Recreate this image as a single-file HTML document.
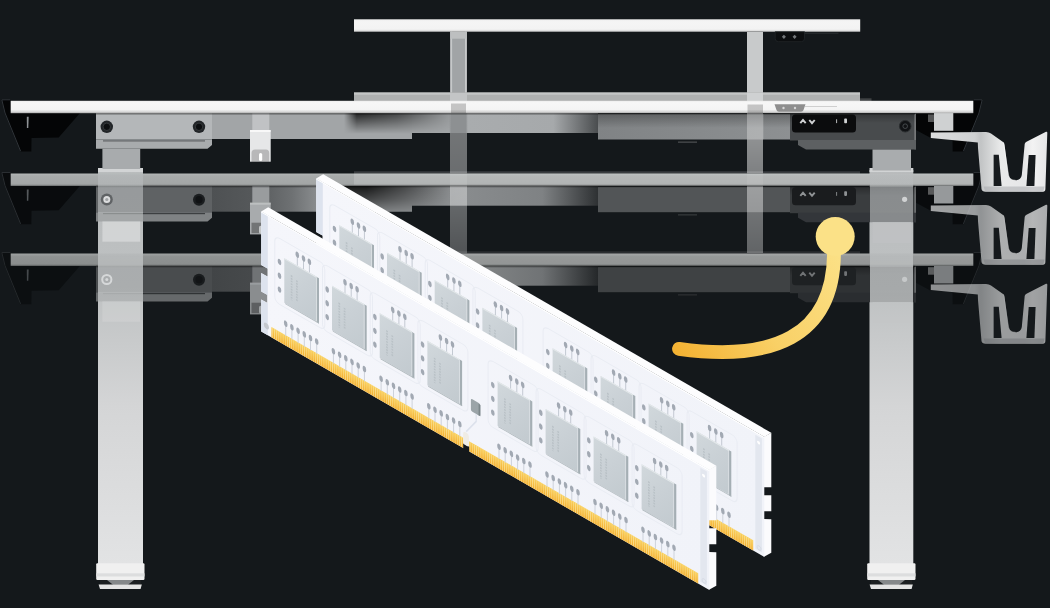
<!DOCTYPE html>
<html><head><meta charset="utf-8"><title>desk</title>
<style>
html,body{margin:0;padding:0;background:#14181b;}
body{width:1050px;height:608px;overflow:hidden;font-family:"Liberation Sans",sans-serif;}
svg{display:block}
</style></head><body>
<svg width="1050" height="608" viewBox="0 0 1050 608">
<defs>
<linearGradient id="topg" x1="0" y1="0" x2="0" y2="1">
<stop offset="0" stop-color="#ededed"/><stop offset=".15" stop-color="#f7f7f7"/><stop offset=".7" stop-color="#f4f4f4"/><stop offset=".88" stop-color="#d9d9d9"/><stop offset="1" stop-color="#a9a9a9"/>
</linearGradient>
<linearGradient id="topg0" x1="0" y1="0" x2="0" y2="1">
<stop offset="0" stop-color="#eeeeee"/><stop offset=".2" stop-color="#f5f5f5"/><stop offset=".8" stop-color="#f3f3f3"/><stop offset="1" stop-color="#d0d0d0"/>
</linearGradient>
<linearGradient id="topg1" x1="0" y1="0" x2="0" y2="1">
<stop offset="0" stop-color="#b4b7b7"/><stop offset=".2" stop-color="#a8abab"/><stop offset=".85" stop-color="#a3a6a6"/><stop offset="1" stop-color="#7a7d7d"/>
</linearGradient>
<linearGradient id="topg2" x1="0" y1="0" x2="0" y2="1">
<stop offset="0" stop-color="#a0a3a3"/><stop offset=".25" stop-color="#8f9292"/><stop offset=".85" stop-color="#8b8e8e"/><stop offset="1" stop-color="#676a6a"/>
</linearGradient>
<linearGradient id="barg" x1="0" y1="0" x2="1" y2="0">
<stop offset="0" stop-color="#a3a6a8"/><stop offset=".2" stop-color="#a3a6a8"/><stop offset=".21" stop-color="#8d9092"/><stop offset=".29" stop-color="#8d9092"/><stop offset=".3" stop-color="#a9acae"/><stop offset=".76" stop-color="#a6a9ab"/><stop offset="1" stop-color="#4a4d4f"/>
</linearGradient>
<linearGradient id="barg1" x1="0" y1="0" x2="1" y2="0">
<stop offset="0" stop-color="#8f9294"/><stop offset=".2" stop-color="#909395"/><stop offset=".21" stop-color="#85888a"/><stop offset=".3" stop-color="#888b8d"/><stop offset=".7" stop-color="#7f8284"/><stop offset="1" stop-color="#2e3133"/>
</linearGradient>
<linearGradient id="barg2" x1="0" y1="0" x2="1" y2="0">
<stop offset="0" stop-color="#5a5d5f"/><stop offset=".18" stop-color="#3c3f41"/><stop offset=".3" stop-color="#858889"/><stop offset=".7" stop-color="#707375"/><stop offset="1" stop-color="#25282a"/>
</linearGradient>
<linearGradient id="bl1" x1="0" y1="0" x2="1" y2="0">
<stop offset="0" stop-color="#4e5153"/><stop offset=".2" stop-color="#55585a"/><stop offset=".4" stop-color="#6e7173"/><stop offset=".55" stop-color="#8f9294"/><stop offset="1" stop-color="#8f9294"/>
</linearGradient>
<linearGradient id="bl2" x1="0" y1="0" x2="1" y2="0">
<stop offset="0" stop-color="#424547"/><stop offset=".3" stop-color="#484b4d"/><stop offset="1" stop-color="#5a5d5f"/>
</linearGradient>
<linearGradient id="boxshade" x1="0" y1="0" x2="0" y2="1">
<stop offset="0" stop-color="#000" stop-opacity=".28"/><stop offset="1" stop-color="#000" stop-opacity="0"/>
</linearGradient>
<linearGradient id="diagsh" x1="0" y1="0" x2="1" y2="1">
<stop offset="0" stop-color="#000" stop-opacity=".8"/><stop offset=".25" stop-color="#000" stop-opacity=".62"/><stop offset=".5" stop-color="#000" stop-opacity=".18"/><stop offset=".75" stop-color="#000" stop-opacity=".03"/><stop offset="1" stop-color="#000" stop-opacity="0"/>
</linearGradient>
<linearGradient id="shv" x1="0" y1="0" x2="0" y2="1">
<stop offset="0" stop-color="#000" stop-opacity=".8"/><stop offset=".35" stop-color="#000" stop-opacity=".45"/><stop offset=".8" stop-color="#000" stop-opacity="0"/>
</linearGradient>
<linearGradient id="shv1" x1="0" y1="0" x2="0" y2="1">
<stop offset="0" stop-color="#000" stop-opacity=".85"/><stop offset=".5" stop-color="#000" stop-opacity=".55"/><stop offset="1" stop-color="#000" stop-opacity=".12"/>
</linearGradient>
<linearGradient id="shmh" x1="0" y1="0" x2="1" y2="0">
<stop offset="0" stop-color="#000"/><stop offset=".12" stop-color="#fff"/><stop offset=".5" stop-color="#bbb"/><stop offset="1" stop-color="#1a1a1a"/>
</linearGradient>
<linearGradient id="shmh1" x1="0" y1="0" x2="1" y2="0">
<stop offset="0" stop-color="#fff"/><stop offset=".35" stop-color="#fff"/><stop offset=".65" stop-color="#999"/><stop offset="1" stop-color="#111"/>
</linearGradient>
<mask id="shm" maskUnits="userSpaceOnUse" x="340" y="110" width="115" height="32"><rect x="344" y="113" width="106" height="26" fill="url(#shmh)"/></mask>
<mask id="shm1" maskUnits="userSpaceOnUse" x="320" y="110" width="135" height="32"><rect x="322" y="113" width="128" height="26" fill="url(#shmh1)"/></mask>
<linearGradient id="boxg" x1="0" y1="0" x2="1" y2="0">
<stop offset="0" stop-color="#808385"/><stop offset="1" stop-color="#8d9092"/>
</linearGradient>
<linearGradient id="legg" x1="0" y1="0" x2="0" y2="1">
<stop offset="0" stop-color="#b9bcbd"/><stop offset=".3" stop-color="#bec1c2"/><stop offset=".6" stop-color="#d4d5d6"/><stop offset="1" stop-color="#e2e3e4"/>
</linearGradient>
<linearGradient id="hookg" gradientUnits="userSpaceOnUse" x1="930" y1="0" x2="1048" y2="0">
<stop offset="0" stop-color="#dcddde"/><stop offset=".38" stop-color="#cfd1d2"/><stop offset=".43" stop-color="#c2c4c5"/><stop offset=".6" stop-color="#e9eaea"/><stop offset=".8" stop-color="#e6e7e8"/><stop offset=".87" stop-color="#f3f3f3"/><stop offset="1" stop-color="#e4e5e6"/>
</linearGradient>
<linearGradient id="faceg" x1="0" y1="0" x2="1" y2="0">
<stop offset="0" stop-color="#f5f6fb"/><stop offset="1" stop-color="#f1f3f9"/>
</linearGradient>
<linearGradient id="chipg" x1="0" y1="0" x2="1" y2="1">
<stop offset="0" stop-color="#d1d8dc"/><stop offset=".5" stop-color="#c9d0d5"/><stop offset="1" stop-color="#c2cacf"/>
</linearGradient>
<linearGradient id="goldg" x1="0" y1="0" x2="0" y2="1">
<stop offset="0" stop-color="#f9d05c"/><stop offset="1" stop-color="#f3ae2e"/>
</linearGradient>
<pattern id="goldlines" width="2.15" height="20" patternUnits="userSpaceOnUse">
<rect x="0" y="0" width=".8" height="20" fill="#fbe39a" opacity=".75"/>
</pattern>
<linearGradient id="curveg" gradientUnits="userSpaceOnUse" x1="835" y1="240" x2="675" y2="350">
<stop offset="0" stop-color="#fbe187"/><stop offset=".55" stop-color="#f9d066"/><stop offset="1" stop-color="#f4b233"/>
</linearGradient>
<linearGradient id="colfadeL" gradientUnits="userSpaceOnUse" x1="0" y1="113" x2="0" y2="300">
<stop offset="0" stop-color="#fff" stop-opacity=".42"/><stop offset=".5" stop-color="#fff" stop-opacity=".34"/><stop offset="1" stop-color="#fff" stop-opacity=".18"/>
</linearGradient>
<linearGradient id="colfadeR" gradientUnits="userSpaceOnUse" x1="0" y1="113" x2="0" y2="253">
<stop offset="0" stop-color="#fff" stop-opacity=".58"/><stop offset=".4" stop-color="#fff" stop-opacity=".46"/><stop offset="1" stop-color="#fff" stop-opacity=".33"/>
</linearGradient>
<clipPath id="colclip"><rect x="440" y="113" width="330" height="60.3"/><rect x="440" y="186.2" width="330" height="67"/><rect x="440" y="266.2" width="330" height="40"/></clipPath>
<clipPath id="legs"><rect x="98" y="168" width="45" height="400"/><rect x="870" y="170" width="43" height="400"/></clipPath>
<clipPath id="notlegs"><path clip-rule="evenodd" d="M0,0H1050V608H0Z M98,168H143V568H98Z M870,170H913V570H870Z"/></clipPath>
<g id="chip">
<rect x="-9.5" y="-17" width="50" height="66" rx="5" fill="none" stroke="#e9ecf3" stroke-width="1"/>
<rect x="12.5" y="-9.8" width="1" height="9.8" fill="#c3c9d2"/>
<ellipse cx="13" cy="-10.8" rx="1.8" ry="3" fill="#a2a9b3"/>
<rect x="18.7" y="-9.8" width="1" height="9.8" fill="#c3c9d2"/>
<ellipse cx="19.2" cy="-10.8" rx="1.8" ry="3" fill="#a2a9b3"/>
<rect x="24.6" y="-9.8" width="1" height="9.8" fill="#c3c9d2"/>
<ellipse cx="25.1" cy="-10.8" rx="1.8" ry="3" fill="#a2a9b3"/>
<ellipse cx="-4.8" cy="6.6" rx="1.8" ry="2.9" fill="#a2a9b3"/>
<ellipse cx="-4.8" cy="20.4" rx="1.8" ry="2.9" fill="#a2a9b3"/>
<ellipse cx="-4.8" cy="34.2" rx="1.8" ry="2.9" fill="#a2a9b3"/>
<rect x="0.8999999999999999" y="64.7" width="1" height="12.3" fill="#cdd2db"/>
<ellipse cx="1.4" cy="64.7" rx="1.8" ry="3" fill="#a2a9b3"/>
<rect x="7.1" y="64.7" width="1" height="12.3" fill="#cdd2db"/>
<ellipse cx="7.6" cy="64.7" rx="1.8" ry="3" fill="#a2a9b3"/>
<rect x="13.3" y="64.7" width="1" height="12.3" fill="#cdd2db"/>
<ellipse cx="13.8" cy="64.7" rx="1.8" ry="3" fill="#a2a9b3"/>
<rect x="19.5" y="64.7" width="1" height="12.3" fill="#cdd2db"/>
<ellipse cx="20.0" cy="64.7" rx="1.8" ry="3" fill="#a2a9b3"/>
<rect x="25.7" y="64.7" width="1" height="12.3" fill="#cdd2db"/>
<ellipse cx="26.2" cy="64.7" rx="1.8" ry="3" fill="#a2a9b3"/>
<rect x="31.9" y="64.7" width="1" height="12.3" fill="#cdd2db"/>
<ellipse cx="32.4" cy="64.7" rx="1.8" ry="3" fill="#a2a9b3"/>
<rect x="0" y="0" width="32.4" height="44.6" fill="url(#chipg)"/>
<rect x="0" y="0" width="32.4" height="1.2" fill="#e3e8ea"/>
<rect x="32.4" y="0.2" width="2.3" height="45.2" fill="#a5afb4"/><rect x="31.7" y="1" width=".8" height="43.6" fill="#dde2e5"/>
<rect x="0.8" y="44.6" width="33.9" height="0.9" fill="#b0b9bd"/>
<path d="M7.3,13 V38 M12.6,15 V36" stroke="#b9c1c6" stroke-width="1.7" stroke-dasharray="1.6 1.1" fill="none"/>
</g>
<g id="ram">
<polygon points="0,0 7,-8.24 455.1,-8.24 448.1,0" fill="#fdfdfe"/>
<polygon points="447.8,0.00 455.1,-8.24 455.1,46.36 447.8,50.40" fill="#fbfbfd"/>
<polygon points="447.8,58.40 455.1,54.36 455.1,70.36 447.8,74.40" fill="#fbfbfd"/>
<polygon points="447.8,82.20 455.1,78.16 455.1,111.76 447.8,120.00" fill="#fbfbfd"/>
<path d="M0,0 H448.1 V120.0 H0 V88 h6 v-8 h-6 V61.5 h6.3 v-8 h-6.3 Z" fill="url(#faceg)"/>
<rect x="0" y="0" width="6.6" height="53.5" fill="#dde3ee"/>
<rect x="0" y="61.5" width="6.6" height="18.5" fill="#dde3ee"/>
<rect x="0" y="88" width="6.6" height="32.0" fill="#dde3ee"/>
<rect x="0" y="53.5" width="6.6" height="8" fill="#14181b" opacity="0"/>
<rect x="439.1" y="3" width="6.6" height="114.0" fill="#e3e7ef"/>
<circle cx="442.40000000000003" cy="9" r="1.5" fill="#ffffff"/>
<circle cx="442.90000000000003" cy="114.0" r="2" fill="none" stroke="#d3d8e2" stroke-width=".7"/>
<ellipse cx="5.2" cy="111.5" rx="2.6" ry="3" fill="#c3c7cd"/>
<rect x="0" y="0" width="448.1" height="1.2" fill="#ffffff"/>
<rect x="10.2" y="109.8" width="191.8" height="10.200000000000003" fill="url(#goldg)"/>
<rect x="207.9" y="109.8" width="229.1" height="10.200000000000003" fill="url(#goldg)"/>
<rect x="10.2" y="109.8" width="191.8" height="10.200000000000003" fill="url(#goldlines)"/>
<rect x="207.9" y="109.8" width="229.1" height="10.200000000000003" fill="url(#goldlines)"/>
<rect x="202" y="115.5" width="5.9" height="5.5" fill="#14181b"/>
<rect x="202" y="103" width="5.7" height="13" rx="2.4" fill="#efece5"/>
<rect x="209.7" y="66" width="9.3" height="12.5" rx="1.5" fill="#9ba4a8"/>
<rect x="217.4" y="67" width="1.8" height="11.3" fill="#7b8589"/>
<path d="M215,78.5 V86 L205,102" fill="none" stroke="#dde2ec" stroke-width="1.3"/>
<use href="#chip" x="23.1" y="33.4"/>
<use href="#chip" x="70.8" y="33.4"/>
<use href="#chip" x="118.5" y="33.4"/>
<use href="#chip" x="166.2" y="33.4"/>
<use href="#chip" x="236.4" y="33.4"/>
<use href="#chip" x="284.4" y="33.4"/>
<use href="#chip" x="332.4" y="33.4"/>
<use href="#chip" x="380.4" y="33.4"/>
</g>
<g id="hook">
<path d="M930.8,132.5 L986,132 Q989,132 991,133.5 L1003.4,142.3 Q1004.5,143.2 1004.6,145 L1008.5,175 Q1009.5,180.3 1015.5,180.3 Q1021,180.3 1021.8,175 L1024.7,144 Q1024.9,142.5 1026.5,141.8 L1046,131.8 Q1047.4,131.3 1047.3,133 L1045.4,189 Q1045.3,191.7 1043,191.7 L985.5,191.7 Q982,191.7 981.5,189 L978,148 L977.8,142.5 L930.8,138 Z" fill="url(#hookg)"/>
<polygon points="985,191 1043.4,191 1044.6,186.4 983.5,186.4" fill="#a9acae" opacity=".55"/>
<polygon points="993.6,154.7 998.8,154.7 1001.6,186 993.6,186" fill="#171b1e"/>
<polygon points="1028.7,155.1 1035.6,155.1 1034.4,186 1026.4,186" fill="#171b1e"/>
<path d="M1003.4,142.3 L1008.5,175 Q1009.5,180.3 1015.5,180.3" fill="none" stroke="#ffffff" stroke-opacity=".5" stroke-width="1"/>
</g>
<g id="desk0">
<rect x="354" y="92.5" width="506" height="8.7" fill="#aeb0b0"/>
<rect x="354" y="92.5" width="506" height="2.2" fill="#c4c6c6"/>
<rect x="860" y="98.3" width="11.5" height="2.9" fill="#3f4244"/>
<rect x="450" y="93" width="17" height="8.2" fill="#c3c5c6"/>
<rect x="747" y="93" width="16" height="8.2" fill="#cfd1d2"/>
<rect x="212" y="113" width="200" height="26" fill="#a2a5a7"/>
<rect x="412" y="113" width="186" height="20" fill="url(#barg)"/>
<path d="M344,113 H450 V133 H412 V139 H344 Z" fill="url(#shv)" mask="url(#shm)"/>
<rect x="598" y="114" width="192" height="25.5" fill="url(#boxg)"/>
<rect x="598" y="114" width="192" height="14" fill="url(#boxshade)"/>
<rect x="678" y="141.5" width="19" height="1.3" fill="#4a4d4f"/>
<rect x="790" y="114" width="126" height="26.5" fill="#484b4d"/>
<rect x="790" y="114" width="126" height="9" fill="url(#boxshade)"/>
<rect x="914.3" y="114" width="1.7" height="35.5" fill="#fff" opacity=".25"/>
<polygon points="798,140 916,140 916,149.5 806,149.5 798,145" fill="#5d6062"/>
<rect x="872.5" y="149.5" width="38.5" height="21" fill="#a9acae"/>
<rect x="96" y="113" width="116" height="26.5" fill="#b4b7b9"/>
<polygon points="96,139.5 212,139.5 212,145 207.5,148.8 96,148.8" fill="#a8abad"/>
<rect x="103" y="140.3" width="102" height="1.2" fill="#606365"/>
<circle cx="106.8" cy="126.8" r="6.2" fill="#222528"/><circle cx="106.8" cy="126.8" r="3.7" fill="#0c0e10" stroke="#3c4043" stroke-width=".8"/>
<circle cx="199" cy="126.8" r="6.2" fill="#222528"/><circle cx="199" cy="126.8" r="3.7" fill="#0c0e10" stroke="#3c4043" stroke-width=".8"/>
<rect x="102.4" y="148.8" width="37.8" height="20.2" fill="#a8abad"/>
<rect x="252.3" y="113" width="17" height="17.5" fill="#c0c2c4"/>
<rect x="250" y="130" width="20.7" height="31.7" fill="#e6e7e8"/>
<rect x="250" y="130" width="20.7" height="2" fill="#ffffff" opacity=".7"/>
<path d="M251.5,161.7 V153 Q251.5,149.5 255,149.5 H266 Q269.2,149.5 269.2,153 V161.7 Z" fill="#000" opacity=".2"/>
<rect x="259" y="153" width="3.2" height="8" rx="1.6" fill="#ffffff"/>
<polygon points="1.3,99.3 10.7,99.3 10.7,113 80,113 58.7,137.5 31.5,138 31.3,151.5 20.3,151.5 4.5,113" fill="#040506"/>
<path d="M10.5,99.8 H1.8 L5,113 L20.6,151.2" fill="none" stroke="#30353a" stroke-width="1"/>
<polygon points="26.8,116.7 28.7,116.7 28.3,128 26.9,128" fill="#8f9396"/>
<polygon points="982.7,99.3 973.3,99.3 973.3,113 916,113 916,130 930,137.5 952.5,138 952.7,151.5 963.7,151.5 979.5,113" fill="#040506"/>
<path d="M973.5,99.8 H982.2 L979,113 L963.4,151.2" fill="none" stroke="#30353a" stroke-width="1"/>
<rect x="934" y="113" width="19.3" height="17.8" fill="#cfd1d2"/>
<rect x="928" y="114.5" width="6" height="7.5" fill="#fff" opacity=".32"/>
<rect x="792" y="114.5" width="64" height="18" rx="3.5" fill="#0b0c0d"/>
<path d="M800.3,123.2 l2.7,-3.2 l2.7,3.2 M809.3,120 l2.7,3.2 l2.7,-3.2" stroke="#d0d2d3" stroke-width="1.9" fill="none"/>
<rect x="836" y="119.3" width="1.1" height="3.8" fill="#d0d2d3" opacity=".8"/><rect x="844.2" y="118.6" width="2.8" height="4.6" rx=".8" fill="#d0d2d3"/>
<circle cx="905.2" cy="126.2" r="5.8" fill="#111315" stroke="#2a2d2f" stroke-width="1"/><circle cx="905.2" cy="126.2" r="2.3" fill="none" stroke="#4a4e51" stroke-width=".9"/>
<rect x="10.7" y="100.8" width="962.6" height="12.4" fill="url(#topg)"/>
<rect x="96" y="113" width="819" height="1.6" fill="#000" opacity=".35"/>
</g>
<g id="desk1">
<rect x="354" y="98.6" width="506" height="2.6" fill="#3a3d40"/>
<rect x="212" y="113" width="200" height="26" fill="url(#bl1)"/>
<rect x="412" y="113" width="186" height="20" fill="url(#barg1)"/>
<path d="M322,113 H450 V133 H412 V139 H322 Z" fill="url(#shv1)" mask="url(#shm1)"/>
<rect x="598" y="114" width="192" height="25.5" fill="#525557"/>
<rect x="678" y="141.5" width="19" height="1.3" fill="#35383a"/>
<rect x="790" y="114" width="126" height="26.5" fill="#3a3d3f"/>
<rect x="790" y="114" width="126" height="9" fill="url(#boxshade)"/>
<rect x="914.3" y="114" width="1.7" height="35.5" fill="#fff" opacity=".25"/>
<polygon points="798,140 916,140 916,149.5 806,149.5 798,145" fill="#33363a"/>
<rect x="872.5" y="149.5" width="38.5" height="21" fill="#c4c6c7"/>
<rect x="96" y="113" width="116" height="26.5" fill="#5f6264"/>
<polygon points="96,139.5 212,139.5 212,145 207.5,148.8 96,148.8" fill="#7f8284"/>
<rect x="103" y="140.3" width="102" height="1.2" fill="#3c3f41"/>
<circle cx="199" cy="127" r="6" fill="#1b1e20"/><circle cx="199" cy="127" r="3.6" fill="#101214"/>
<rect x="102.4" y="148.8" width="37.8" height="20.2" fill="#f6f6f6"/>
<rect x="252.3" y="113" width="17" height="17.5" fill="#999c9e"/>
<rect x="250" y="130" width="20.7" height="31.7" fill="#a8abad"/>
<rect x="250" y="130" width="20.7" height="2" fill="#c5c7c8" opacity=".7"/>
<rect x="251.5" y="150" width="17.7" height="10.5" fill="#000" opacity=".32"/>
<rect x="259" y="153" width="3.2" height="8" rx="1.6" fill="#c5c7c8"/>
<polygon points="1.3,99.3 10.7,99.3 10.7,113 80,113 58.7,137.5 31.5,138 31.3,151.5 20.3,151.5 4.5,113" fill="#090b0d"/>
<path d="M10.5,99.8 H1.8 L5,113 L20.6,151.2" fill="none" stroke="#2a2e32" stroke-width="1"/>
<polygon points="26.8,116.7 28.7,116.7 28.3,128 26.9,128" fill="#55595c"/>
<polygon points="982.7,99.3 973.3,99.3 973.3,113 916,113 916,130 930,137.5 952.5,138 952.7,151.5 963.7,151.5 979.5,113" fill="#090b0d"/>
<path d="M973.5,99.8 H982.2 L979,113 L963.4,151.2" fill="none" stroke="#2a2e32" stroke-width="1"/>
<rect x="934" y="113" width="19.3" height="17.8" fill="#96999b"/>
<rect x="928" y="114.5" width="6" height="7.5" fill="#fff" opacity=".32"/>
<rect x="792" y="114.5" width="64" height="18" rx="3.5" fill="#1a1c1e"/>
<path d="M800.3,123.2 l2.7,-3.2 l2.7,3.2 M809.3,120 l2.7,3.2 l2.7,-3.2" stroke="#8f9294" stroke-width="1.9" fill="none"/>
<rect x="836" y="119.3" width="1.1" height="3.8" fill="#8f9294" opacity=".8"/><rect x="844.2" y="118.6" width="2.8" height="4.6" rx=".8" fill="#8f9294"/>
<circle cx="904.6" cy="126.6" r="2.6" fill="#f4f4f4"/>
<rect x="10.7" y="100.8" width="962.6" height="12.4" fill="url(#topg1)"/>
<rect x="354" y="101" width="619.3" height="11" fill="#fff" opacity=".16"/>
<rect x="96" y="113" width="819" height="1.6" fill="#000" opacity=".35"/>
</g>
<g id="desk2">
<rect x="354" y="98.6" width="506" height="2.6" fill="#2b2e31"/>
<rect x="212" y="113" width="200" height="26" fill="url(#bl2)"/>
<rect x="412" y="113" width="186" height="20" fill="url(#barg2)"/>
<rect x="598" y="114" width="192" height="25.5" fill="#3f4244"/>
<rect x="678" y="141.5" width="19" height="1.3" fill="#2c2f31"/>
<rect x="790" y="114" width="126" height="26.5" fill="#2f3234"/>
<rect x="790" y="114" width="126" height="9" fill="url(#boxshade)"/>
<rect x="914.3" y="114" width="1.7" height="35.5" fill="#fff" opacity=".25"/>
<polygon points="798,140 916,140 916,149.5 806,149.5 798,145" fill="#2a2d30"/>
<rect x="872.5" y="149.5" width="38.5" height="21" fill="#c4c6c7"/>
<rect x="96" y="113" width="116" height="26.5" fill="#494c4e"/>
<polygon points="96,139.5 212,139.5 212,145 207.5,148.8 96,148.8" fill="#66696b"/>
<rect x="103" y="140.3" width="102" height="1.2" fill="#303335"/>
<circle cx="199" cy="127" r="6" fill="#191c1e"/><circle cx="199" cy="127" r="3.6" fill="#121416"/>
<rect x="102.4" y="148.8" width="37.8" height="20.2" fill="#f6f6f6"/>
<rect x="252.3" y="113" width="17" height="17.5" fill="#707375"/>
<rect x="250" y="130" width="20.7" height="31.7" fill="#8a8d8f"/>
<rect x="250" y="130" width="20.7" height="2" fill="#a0a3a5" opacity=".7"/>
<rect x="251.5" y="150" width="17.7" height="10.5" fill="#000" opacity=".32"/>
<rect x="259" y="153" width="3.2" height="8" rx="1.6" fill="#a0a3a5"/>
<polygon points="1.3,99.3 10.7,99.3 10.7,113 80,113 58.7,137.5 31.5,138 31.3,151.5 20.3,151.5 4.5,113" fill="#0c0f11"/>
<path d="M10.5,99.8 H1.8 L5,113 L20.6,151.2" fill="none" stroke="#25292c" stroke-width="1"/>
<polygon points="26.8,116.7 28.7,116.7 28.3,128 26.9,128" fill="#45494c"/>
<polygon points="982.7,99.3 973.3,99.3 973.3,113 916,113 916,130 930,137.5 952.5,138 952.7,151.5 963.7,151.5 979.5,113" fill="#0c0f11"/>
<path d="M973.5,99.8 H982.2 L979,113 L963.4,151.2" fill="none" stroke="#25292c" stroke-width="1"/>
<rect x="934" y="113" width="19.3" height="17.8" fill="#7a7d7f"/>
<rect x="928" y="114.5" width="6" height="7.5" fill="#fff" opacity=".32"/>
<rect x="792" y="114.5" width="64" height="18" rx="3.5" fill="#1e2123"/>
<path d="M800.3,123.2 l2.7,-3.2 l2.7,3.2 M809.3,120 l2.7,3.2 l2.7,-3.2" stroke="#707375" stroke-width="1.9" fill="none"/>
<rect x="836" y="119.3" width="1.1" height="3.8" fill="#707375" opacity=".8"/><rect x="844.2" y="118.6" width="2.8" height="4.6" rx=".8" fill="#707375"/>
<circle cx="904.6" cy="126.6" r="2.6" fill="#f4f4f4"/>
<rect x="10.7" y="100.8" width="962.6" height="12.4" fill="url(#topg2)"/>
<rect x="354" y="101" width="619.3" height="11" fill="#fff" opacity=".07"/>
<rect x="96" y="113" width="819" height="1.6" fill="#000" opacity=".35"/>
</g>
<g id="ghostA">
<use href="#desk2" y="152.7"/>
<use href="#hook" y="152" opacity=".63"/>
</g>
<g id="ghostB">
<use href="#desk1" y="72.7"/>
<use href="#hook" y="73" opacity=".72"/>
</g>
</defs>
<rect width="1050" height="608" fill="#14181b"/>

<!-- top (highest) desk -->
<rect x="450.3" y="31.7" width="16.5" height="61" fill="#a1a4a6"/>
<rect x="450.3" y="31.7" width="1.8" height="61" fill="#c6c8c9"/><rect x="465" y="31.7" width="1.8" height="61" fill="#c6c8c9"/>
<rect x="450.3" y="31.7" width="16.5" height="7" fill="#bdbfc0"/>
<rect x="747" y="32" width="16" height="61" fill="#c8cacb"/>
<rect x="354" y="19.3" width="506.2" height="12.4" fill="url(#topg0)"/>
<path d="M775.2,31.7 H804.5 V38.5 Q804.5,41.7 801.3,41.7 H778.4 Q775.2,41.7 775.2,38.5 Z" fill="#0c0e10" stroke="#24282b" stroke-width=".7"/>
<path d="M783.9,34.7 l2,2.1 l-2,2.1 l-2,-2.1 Z M794.6,34.7 l2,2.1 l-2,2.1 l-2,-2.1 Z" fill="#74787b"/>
<rect x="804.5" y="32.7" width="34" height="1" fill="#2c2f32"/>

<!-- fixed legs -->
<rect x="98" y="168" width="45" height="396" fill="url(#legg)"/>
<rect x="98" y="168" width="45" height="4" fill="#d2d4d5"/>
<rect x="869.5" y="170" width="43.8" height="394" fill="url(#legg)"/>
<rect x="869.5" y="168" width="43.8" height="4" fill="#d2d4d5"/>
<g id="footL">
<rect x="96.2" y="563.2" width="48.3" height="16.8" rx="1.2" fill="#f0f0f0"/>
<rect x="96.2" y="573.3" width="48.3" height="3.2" fill="#dcddde"/>
<rect x="100" y="580" width="41" height="5" fill="#1c1f21"/>
<polygon points="107,580 134,580 128,584.8 113,584.8" fill="#85888a"/>
<polygon points="98.6,584.4 141.8,584.4 140.6,589 100,589" fill="#e4e4e4"/>
</g>
<use href="#footL" x="771"/>

<!-- ghost desks -->
<g clip-path="url(#notlegs)"><use href="#ghostA"/><use href="#ghostB"/></g>
<g clip-path="url(#legs)"><use href="#ghostA" opacity=".16"/><use href="#ghostB" opacity=".38"/></g>
<circle cx="106.8" cy="199.5" r="6" fill="#606365"/><circle cx="106.8" cy="199.5" r="3.5" fill="#dcddde"/><circle cx="106.8" cy="199.5" r="1.6" fill="#a0a3a5"/>
<circle cx="106.8" cy="279.5" r="4.6" fill="none" stroke="#d6d8d9" stroke-width="2"/><circle cx="106.8" cy="279.5" r="1.5" fill="#d6d8d9"/>
<!-- rear columns of top desk (faded) -->
<g clip-path="url(#colclip)">
<rect x="450" y="113" width="17" height="190" fill="url(#colfadeL)"/>
<rect x="747" y="113" width="16" height="140" fill="url(#colfadeR)"/>
</g>
<rect x="450" y="173.5" width="17" height="12.5" fill="#fff" opacity=".1"/>
<rect x="747" y="173.5" width="16" height="12.5" fill="#fff" opacity=".08"/>
<!-- main desk -->
<use href="#desk0"/>
<use href="#hook"/>
<rect x="451" y="103.5" width="15" height="9.5" fill="#000" opacity=".2"/>
<rect x="747.5" y="104.5" width="15.5" height="8.5" fill="#000" opacity=".2"/>
<rect x="747" y="114" width="16.3" height="25.5" fill="#fff" opacity=".3"/>
<path d="M774.5,104.3 H805.5 L803.5,110 Q803,111.8 801,111.8 H779 Q777,111.8 776.5,110 Z" fill="#8e8e8e"/>
<circle cx="783.5" cy="108" r="1.2" fill="#d8d8d8"/><circle cx="795" cy="108" r="1.2" fill="#d8d8d8"/>
<rect x="805" y="106" width="32" height="1" fill="#cfcfcf"/>

<!-- yellow curve -->
<path d="M834,252 C834,338 771,361.5 679,348.8" fill="none" stroke="url(#curveg)" stroke-width="13.8" stroke-linecap="round"/>
<circle cx="835.2" cy="236.5" r="19.5" fill="#fbe187"/>

<!-- RAM modules -->
<g transform="matrix(1,0.577,0,1,316.2,178.4)"><use href="#ram"/></g>
<g transform="matrix(1,0.577,0,1,261.2,211.4)"><use href="#ram"/></g>
</svg>
</body></html>
